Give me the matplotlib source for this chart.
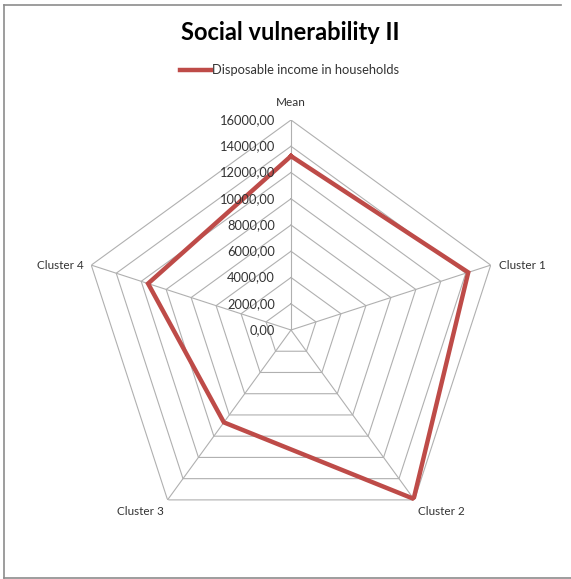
import numpy as np
import matplotlib
matplotlib.use('Agg')
import matplotlib.pyplot as plt
from matplotlib.lines import Line2D
from matplotlib import transforms

plt.rcParams['font.family'] = ['Lato', 'DejaVu Sans']

categories = ["Mean", "Cluster 1", "Cluster 2", "Cluster 3", "Cluster 4"]
income = [13250, 14200, 15900, 8700, 11450]
ring_values = [2000, 4000, 6000, 8000, 10000, 12000, 14000, 16000]
tick_values = [0, 2000, 4000, 6000, 8000, 10000, 12000, 14000, 16000]
tick_labels = ["0,00", "2000,00", "4000,00", "6000,00", "8000,00",
               "10000,00", "12000,00", "14000,00", "16000,00"]

W, H = 571, 579
fig = plt.figure(figsize=(W / 100, H / 100), dpi=100)

# chart frame
frame = dict(color='#8c8c8c', linewidth=1.2, transform=fig.transFigure)
fig.add_artist(Line2D([4 / W, 4 / W], [1 - 5 / H, 1 - 578 / H], **frame))
fig.add_artist(Line2D([4 / W, 561 / W], [1 - 5 / H, 1 - 5 / H], **frame))
fig.add_artist(Line2D([4 / W, 1.0], [1 - 578 / H, 1 - 578 / H], **frame))

cx, cy, rad = 291, 330, 210
ax = fig.add_axes([(cx - rad) / W, (H - cy - rad) / H, 2 * rad / W, 2 * rad / H],
                  projection='polar')
ax.set_theta_offset(np.pi / 2)
ax.set_theta_direction(-1)
ax.set_ylim(0, 16000)
ax.set_xticks([])
ax.set_yticks([])
ax.grid(False)
ax.spines['polar'].set_visible(False)
ax.patch.set_alpha(0)

n = len(categories)
angles = np.arange(n) * 2 * np.pi / n
closed = np.append(angles, angles[0])

# polygon rings and spokes
for r in ring_values:
    ax.plot(closed, [r] * (n + 1), color='#b0b0b0', linewidth=0.8, zorder=1)
for a in angles:
    ax.plot([a, a], [0, 16000], color='#b0b0b0', linewidth=0.8, zorder=1)

ax.plot(closed, income + [income[0]], color='#be4b48', linewidth=3.2,
        solid_joinstyle='miter', zorder=3)

# value labels along the Mean axis
lbl_tr = transforms.offset_copy(ax.transData, fig=fig, x=-16, y=0, units='dots')
for v, t in zip(tick_values, tick_labels):
    ax.text(0, v, t, transform=lbl_tr, ha='right', va='center',
            fontsize=9.3, color='#333333')

# category labels
cat_pos = [(0, 16000, 0, 12, 'center', 'bottom'),
           (angles[1], 16000, 8, 0, 'left', 'center'),
           (angles[2], 16000, 4, -6, 'left', 'top'),
           (angles[3], 16000, -4, -6, 'right', 'top'),
           (angles[4], 16000, -8, 0, 'right', 'center')]
for name, (a, r, dx, dy, ha, va) in zip(categories, cat_pos):
    tr = transforms.offset_copy(ax.transData, fig=fig, x=dx, y=dy, units='dots')
    ax.text(a, r, name, transform=tr, ha=ha, va=va, fontsize=8.5, color='#333333')

fig.text(290 / W, 1 - 33 / H, "Social vulnerability II", ha='center', va='center',
         fontsize=17, fontweight='bold', color='black')

fig.add_artist(Line2D([180 / W, 211 / W], [1 - 70 / H, 1 - 70 / H],
                      color='#be4b48', linewidth=3.2, transform=fig.transFigure))
fig.text(212 / W, 1 - 70 / H, "Disposable income in households", ha='left', va='center',
         fontsize=9.3, color='#333333')

fig.savefig('out.png', dpi=100)
